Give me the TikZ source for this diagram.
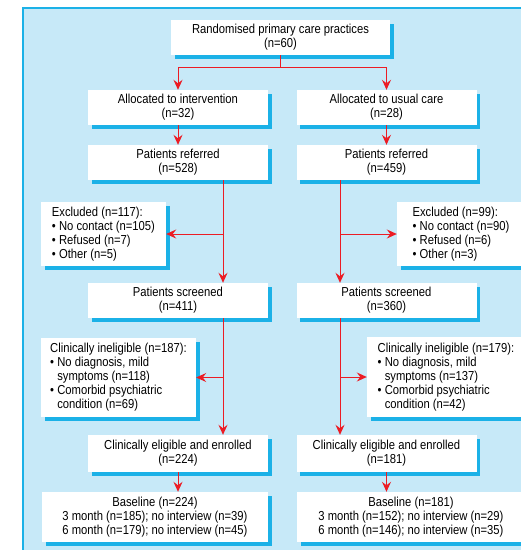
\documentclass[tikz,border=0pt]{standalone}
\usepackage{fontspec}
\setmainfont{Liberation Sans}[FakeStretch=0.865]
\usepackage{tikz}
\usetikzlibrary{shadows, arrows.meta}
\definecolor{panelblue}{HTML}{C7E9F8}
\definecolor{framecyan}{HTML}{1BB1E7}
\definecolor{flowred}{HTML}{EC1C24}

\begin{document}
\begin{tikzpicture}[x=1pt, y=-1pt]
    % Define the style for the nodes
    \tikzstyle{block} = [rectangle, fill=white, align=center, inner sep=0pt, font=\fontsize{13}{14}\selectfont, general shadow={fill=framecyan, shadow xshift=3.5pt, shadow yshift=-3.5pt}]
    \tikzstyle{wide} = [block, minimum width=180pt, minimum height=35pt]
    \tikzstyle{note} = [block, align=left]
    \tikzstyle{line} = [draw=flowred, line width=0.9pt, -{Stealth[length=10pt, width=9pt, inset=3.5pt]}]

    % Background panel
    \useasboundingbox (0,0) rectangle (521,550);
    \fill [panelblue] (23,8) rectangle (530,556);
    \draw [framecyan, line width=1.2pt] (23,556) -- (23,8) -- (530,8);

    % Place the nodes
    \node [block, minimum width=219pt, minimum height=35pt] (practices) at (280.5,37.5) {Randomised primary care practices\\(n=60)};
    \node [wide] (intervention) at (178,107.5) {Allocated to intervention\\(n=32)};
    \node [wide] (usualcare) at (386.5,107.5) {Allocated to usual care\\(n=28)};
    \node [wide] (referredint) at (178,162.5) {Patients referred\\(n=528)};
    \node [wide] (referredusual) at (386.5,162.5) {Patients referred\\(n=459)};
    \node [note, minimum width=125pt, minimum height=64pt] (excludedint) at (103.5,234) {Excluded (n=117):\\\textbullet\ No contact (n=105)\\\textbullet\ Refused (n=7)\\\textbullet\ Other (n=5)};
    \node [note, minimum width=128pt, minimum height=64pt] (excludedusual) at (461,234) {Excluded (n=99):\\\textbullet\ No contact (n=90)\\\textbullet\ Refused (n=6)\\\textbullet\ Other (n=3)};
    \node [wide] (screenedint) at (178,300.5) {Patients screened\\(n=411)};
    \node [wide] (screenedusual) at (386.5,300.5) {Patients screened\\(n=360)};
    \node [note, minimum width=155pt, minimum height=79pt] (ineligint) at (118.5,377.5) {Clinically ineligible (n=187):\\\textbullet\ No diagnosis, mild\\\phantom{\textbullet\ }symptoms (n=118)\\\textbullet\ Comorbid psychiatric\\\phantom{\textbullet\ }condition (n=69)};
    \node [note, minimum width=158pt, minimum height=80pt] (ineligusual) at (446,377) {Clinically ineligible (n=179):\\\textbullet\ No diagnosis, mild\\\phantom{\textbullet\ }symptoms (n=137)\\\textbullet\ Comorbid psychiatric\\\phantom{\textbullet\ }condition (n=42)};
    \node [wide, minimum height=37pt] (enrolledint) at (178,453.5) {Clinically eligible and enrolled\\(n=224)};
    \node [wide, minimum height=37pt] (enrolledusual) at (386.5,453.5) {Clinically eligible and enrolled\\(n=181)};
    \node [block, minimum width=226pt, minimum height=50pt] (baselineint) at (155,517) {Baseline (n=224)\\3 month (n=185); no interview (n=39)\\6 month (n=179); no interview (n=45)};
    \node [block, minimum width=228pt, minimum height=50pt] (baselineusual) at (411,517) {Baseline (n=181)\\3 month (n=152); no interview (n=29)\\6 month (n=146); no interview (n=35)};

    % Vertical spines of the two arms
    \coordinate (spineint) at (223,0);
    \coordinate (spineusual) at (340,0);

    % Connect the nodes with paths
    \path [line] (practices.south) -- ++(0,12) -| (intervention.north);
    \path [line] (practices.south) -- ++(0,12) -| (usualcare.north);
    \path [line] (intervention) -- (referredint);
    \path [line] (usualcare) -- (referredusual);
    \path [line] (referredint.south -| spineint) -- (screenedint.north -| spineint);
    \path [line] (referredusual.south -| spineusual) -- (screenedusual.north -| spineusual);
    \path [line] (excludedint.east -| spineint) -- (excludedint.east);
    \path [line] (excludedusual.west -| spineusual) -- (excludedusual.west);
    \path [line] (screenedint.south -| spineint) -- (enrolledint.north -| spineint);
    \path [line] (screenedusual.south -| spineusual) -- (enrolledusual.north -| spineusual);
    \path [line] (ineligint.east -| spineint) -- (ineligint.east);
    \path [line] (ineligusual.west -| spineusual) -- (ineligusual.west);
    \path [line] (enrolledint.south) -- (enrolledint.south |- baselineint.north);
    \path [line] (enrolledusual.south) -- (enrolledusual.south |- baselineusual.north);
\end{tikzpicture}
\end{document}
